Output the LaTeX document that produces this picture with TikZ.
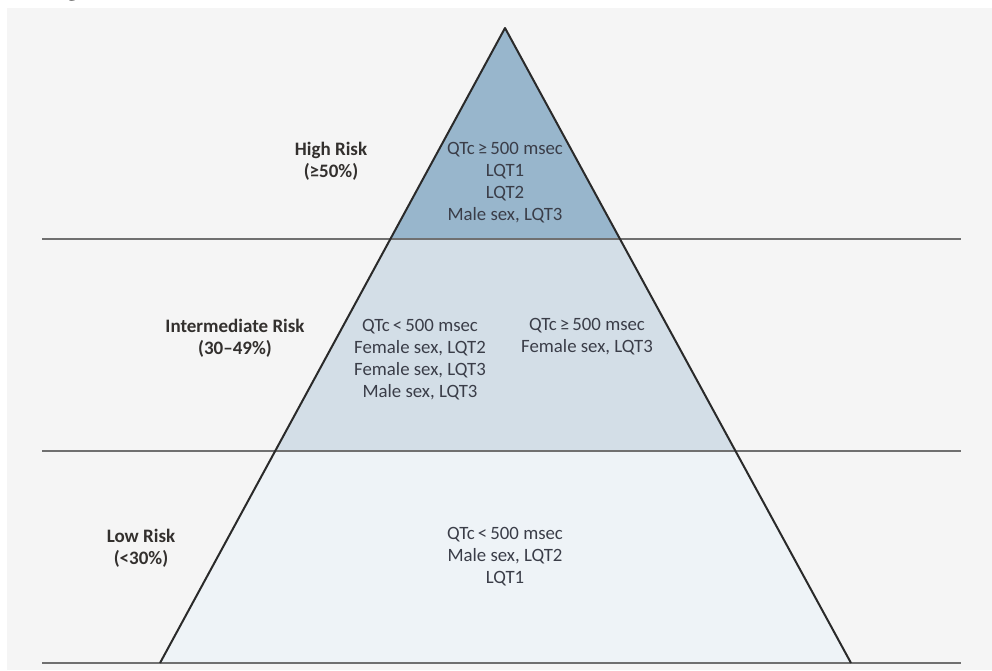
\documentclass[tikz,border=0pt]{standalone}
\usepackage{fontspec}
\setmainfont{Carlito}
\newfontfamily\titlefont{Liberation Serif}
\definecolor{bgc}{HTML}{F5F5F5}
\definecolor{highc}{HTML}{98B6CC}
\definecolor{midc}{HTML}{D3DEE7}
\definecolor{lowc}{HTML}{EEF3F7}
\definecolor{linec}{HTML}{707070}
\definecolor{edgec}{HTML}{2A2A2A}
\definecolor{txtc}{HTML}{3A3D48}
\definecolor{labc}{HTML}{33302E}
\begin{document}
\begin{tikzpicture}[x=1pt,y=-1pt,
  band/.style={draw=linec,line width=2pt},
  edge/.style={draw=edgec,line width=2pt,line join=round},
  inner/.style={align=center,text=txtc,font=\fontsize{18.8}{22}\selectfont,inner sep=0pt},
  risk/.style={align=center,text=labc,font=\bfseries\fontsize{19}{22}\selectfont,inner sep=0pt}]
\useasboundingbox (0,0) rectangle (992,670);
\fill[white] (0,0) rectangle (992,670);
\fill[bgc] (7,8) rectangle (992,670);
\node[text=black,inner sep=0pt] (q) at (64,-13) {\titlefont\bfseries\fontsize{34}{34}\selectfont Q};
% key points
\coordinate (apex) at (505,28);
\coordinate (bl) at (160,663);
\coordinate (br) at (851,663);
\coordinate (hl) at (390.3,239);
\coordinate (hr) at (620,239);
\coordinate (ml) at (275.1,451);
\coordinate (mr) at (735.3,451);
% band fills
\fill[highc] (apex) -- (hr) -- (hl) -- cycle;
\fill[midc] (hl) -- (hr) -- (mr) -- (ml) -- cycle;
\fill[lowc] (ml) -- (mr) -- (br) -- (bl) -- cycle;
% horizontal lines
\coordinate (l1a) at (42,239); \coordinate (l1b) at (961,239);
\coordinate (l2a) at (42,451); \coordinate (l2b) at (961,451);
\coordinate (l3a) at (42,663); \coordinate (l3b) at (961,663);
\draw[band] (l1a) -- (l1b);
\draw[band] (l2a) -- (l2b);
\draw[band] (l3a) -- (l3b);
% triangle outline
\draw[edge] (bl) -- (apex) -- (br);
% labels
\node[risk] (high) at (331,161) {High Risk\\(≥50\%)};
\node[risk] (inter) at (235,338) {Intermediate Risk\\(30–49\%)};
\node[risk] (low) at (141,548) {Low Risk\\(<30\%)};
% contents
\node[inner] (hightxt) at (505,183) {QTc\,≥\,500 msec\\LQT1\\LQT2\\Male sex, LQT3};
\node[inner] (midl) at (420,360) {QTc\,<\,500 msec\\Female sex, LQT2\\Female sex, LQT3\\Male sex, LQT3};
\node[inner] (midr) at (587,337) {QTc\,≥\,500 msec\\Female sex, LQT3};
\node[inner] (lowtxt) at (505,557) {QTc\,<\,500 msec\\Male sex, LQT2\\LQT1};
\end{tikzpicture}
\end{document}
